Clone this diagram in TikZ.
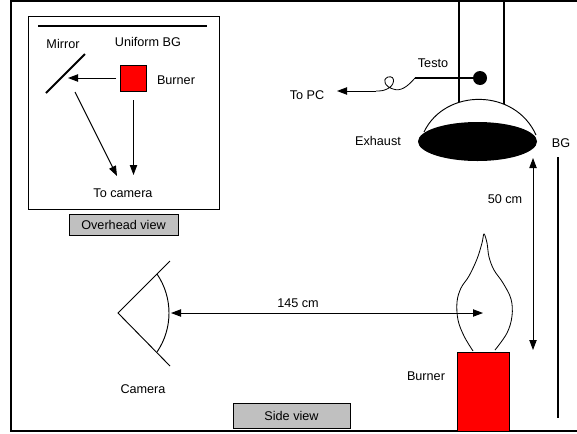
\documentclass[tikz,border=0pt]{standalone}
\usepackage{fontspec}
\setmainfont{Liberation Sans}
\usepackage{xcolor}
\definecolor{burnerred}{HTML}{FF0000}
\definecolor{tabgray}{HTML}{C0C0C0}
\usetikzlibrary{shapes.geometric, arrows.meta, positioning, calc}

\begin{document}
\begin{tikzpicture}[
  x=0.3mm, y=-0.3mm,
  lbl/.style={inner sep=0pt, font=\fontsize{10.8}{13}\selectfont},
  tab/.style={rectangle, draw, fill=tabgray, line width=0.8pt, inner sep=0pt,
    font=\fontsize{10.8}{13}\selectfont},
  ray/.style={line width=0.8pt, -{Triangle[length=3mm, width=2.2mm]}},
  dim/.style={line width=0.8pt, {Triangle[length=3mm, width=2.2mm]}-{Triangle[length=3mm, width=2.2mm]}},
  heavy/.style={line width=2.4pt},
  redbox/.style={rectangle, draw, fill=burnerred, inner sep=0pt, line width=0.7pt}
]
\useasboundingbox (0,0) rectangle (577,433);
\draw[line width=0.9pt] (11,1) rectangle (600,431);

% overhead view
\draw[line width=0.8pt] (28,16) rectangle (219,209);
\draw[heavy] (38,26) -- (207,26);
\node[lbl] at (148,42) {Uniform BG};
\node[lbl] at (63,44) {Mirror};
\draw[line width=1.6pt] (46,93) -- (85,54);
\node[redbox, minimum size=7.8mm] (topburner) at (133.5,78) {};
\node[lbl] at (176,80) {Burner};
\coordinate (mirrorhit) at (68,78);
\coordinate (mirrorout) at (75,92);
\coordinate (camleft) at (117,176);
\coordinate (camright) at (133.5,175);
\node[lbl] (tocam) at (123,193) {To camera};
\draw[ray, shorten <=1.2mm] (topburner.west) -- (mirrorhit);
\draw[ray] (mirrorout) -- (camleft);
\draw[ray, shorten <=2.7mm] (topburner.south) -- (camright);
\node[tab, minimum width=32.7mm, minimum height=6.3mm] (overhead) at (123.5,224.5) {Overhead view};

% side view: exhaust hood and duct
\draw[line width=2pt] (459,-3) -- (459,110);
\draw[line width=2pt] (504,-3) -- (504,110);
\draw[line width=0.8pt, fill=white] (424,132) .. controls (445,88) and (515,88) .. (536,135);
\node[ellipse, fill=black, minimum width=35.7mm, minimum height=11.7mm, inner sep=0pt] (hood) at (477.5,141.5) {};
\node[lbl] at (378,141) {Exhaust};

% testo probe and its cable
\node[circle, fill=black, minimum size=4.2mm, inner sep=0pt] (probe) at (480,78) {};
\coordinate (probeend) at (415,78);
\draw[heavy] (probeend) -- (probe);
\node[lbl] at (433,63) {Testo};
\coordinate (wireend) at (376,91);
\coordinate (pcport) at (337,91);
\draw[line width=0.7pt] (probeend) .. controls (408,86) and (401,92) .. (393,89)
  .. controls (386,87) and (381,80) .. (388,77)
  .. controls (396,75) and (395,86) .. (387,89)
  .. controls (383,91) and (380,91) .. (wireend);
\draw[ray] (wireend) -- (pcport);
\node[lbl] (topc) at (307,95) {To PC};

% background panel
\coordinate (bgtop) at (558,157);
\coordinate (bgbot) at (558,418);
\draw[line width=1.5pt] (bgtop) -- (bgbot);
\node[lbl] at (561,143) {BG};

% burner and flame
\node[redbox, minimum width=15.6mm, minimum height=23.7mm] (burner) at (483,391.5) {};
\node[lbl] at (426,376) {Burner};
\draw[line width=0.7pt] plot[smooth, tension=0.6] coordinates {
  (473,351) (464,336) (458,320) (457,302) (461,288) (469,276) (477,259) (482,243) (484,234)
  (487,243) (489,257) (494,270) (503,283) (511,299) (512,316) (507,333) (495,350)};
\coordinate (hoodrim) at (533,158);
\coordinate (burnertop) at (533,350);
\draw[dim] (hoodrim) -- (burnertop);
\node[lbl] at (505,199) {50 cm};

% camera
\coordinate (cam) at (118,313);
\coordinate (lens) at (171,313);
\coordinate (flamecore) at (483,313);
\draw[line width=0.8pt] (170,261) -- (cam) -- (170,366);
\draw[line width=0.8pt] (99.6,313) ++(-34:69.4) arc[start angle=-34, end angle=34, radius=69.4];
\draw[dim] (lens) -- (flamecore);
\node[lbl] at (298,303) {145 cm};
\node[lbl] at (143,389) {Camera};
\node[tab, minimum width=35.1mm, minimum height=7.5mm] (sideview) at (291.5,415.5) {Side view};
\end{tikzpicture}
\end{document}
